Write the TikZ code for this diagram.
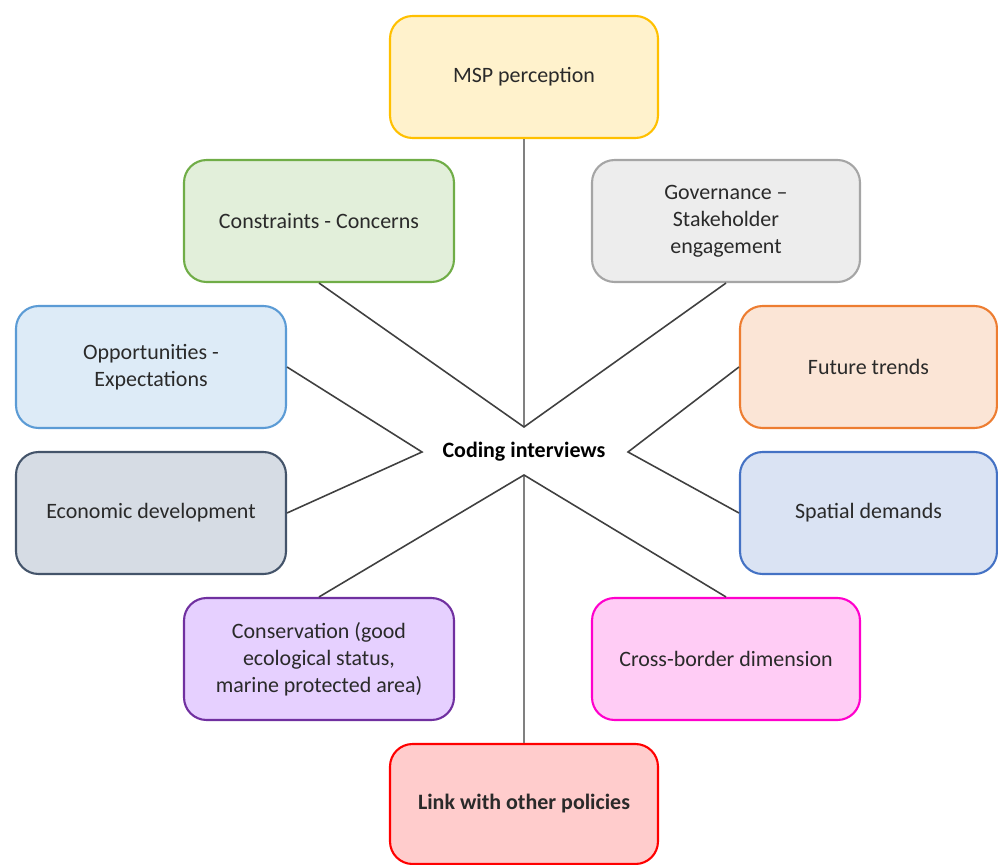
\documentclass[tikz,border=0pt]{standalone}
\usepackage{fontspec}
\setmainfont{Carlito}
\definecolor{txt}{HTML}{2A2A2A}
\definecolor{spoke}{HTML}{404040}
% Rahmen und Fuellung
\definecolor{mspD}{HTML}{FFC000}\definecolor{mspF}{HTML}{FFF2CC}
\definecolor{consD}{HTML}{70AD47}\definecolor{consF}{HTML}{E2EFDA}
\definecolor{govD}{HTML}{A5A5A5}\definecolor{govF}{HTML}{EDEDED}
\definecolor{oppD}{HTML}{5B9BD5}\definecolor{oppF}{HTML}{DDEBF7}
\definecolor{futD}{HTML}{ED7D31}\definecolor{futF}{HTML}{FBE5D6}
\definecolor{ecoD}{HTML}{44546A}\definecolor{ecoF}{HTML}{D6DCE4}
\definecolor{spaD}{HTML}{4472C4}\definecolor{spaF}{HTML}{DAE3F3}
\definecolor{cnsvD}{HTML}{7030A0}\definecolor{cnsvF}{HTML}{E6D0FF}
\definecolor{crossD}{HTML}{FF00CC}\definecolor{crossF}{HTML}{FFCCF5}
\definecolor{linkD}{HTML}{FF0000}\definecolor{linkF}{HTML}{FFCCCC}
\begin{document}
\begin{tikzpicture}[x=0.02cm,y=-0.02cm,
	topic/.style={draw=#1D, fill=#1F, line width=1.2pt, rounded corners=0.45cm, minimum width=5.36cm, minimum height=2.44cm, align=center, text=txt, font=\fontsize{12.5}{15.3}\selectfont},
	spokeline/.style={spoke, line width=0.9pt},
	stem/.style={gray, line width=1.6pt}]
		\useasboundingbox (0,0) rectangle (998,865);
		% Themen
		\node [topic=msp] (msp) at (524,77) {MSP perception};
		\node [topic=cons, minimum width=5.4cm] (cons) at (319,221) {Constraints - Concerns};
		\node [topic=gov] (gov) at (726,221) {Governance --\\Stakeholder\\engagement};
		\node [topic=opp, minimum width=5.4cm] (opp) at (151,367) {Opportunities -\\Expectations};
		\node [topic=fut, minimum width=5.14cm] (fut) at (868.5,367) {Future trends};
		\node [topic=eco, minimum width=5.4cm] (eco) at (151,513) {Economic development};
		\node [topic=spa, minimum width=5.14cm] (spa) at (868.5,513) {Spatial demands};
		\node [topic=cnsv, minimum width=5.4cm] (cnsv) at (319,659) {Conservation (good\\ecological status,\\marine protected area)};
		\node [topic=cross] (cross) at (726,659) {Cross-border dimension};
		\node [topic=link, font=\fontsize{12.5}{15.3}\selectfont\bfseries, minimum height=2.4cm] (link) at (524,804) {Link with other policies};
		% Mitte
		\node [text=black, font=\fontsize{12.5}{15.3}\selectfont\bfseries] (coding) at (524,452) {Coding interviews};
		\coordinate (top) at (524,427);
		\coordinate (bot) at (524,475);
		\coordinate (lft) at (422,452);
		\coordinate (rgt) at (628,452);
		% Verbindungen
		\draw [stem] (msp.south) -- (top);
		\draw [stem] (bot) -- (link.north);
		\draw [spokeline] (cons.south) -- (top) -- (gov.south);
		\draw [spokeline] (opp.east) -- (lft) -- (eco.east);
		\draw [spokeline] (fut.west) -- (rgt) -- (spa.west);
		\draw [spokeline] (cnsv.north) -- (bot) -- (cross.north);
\end{tikzpicture}
\end{document}
